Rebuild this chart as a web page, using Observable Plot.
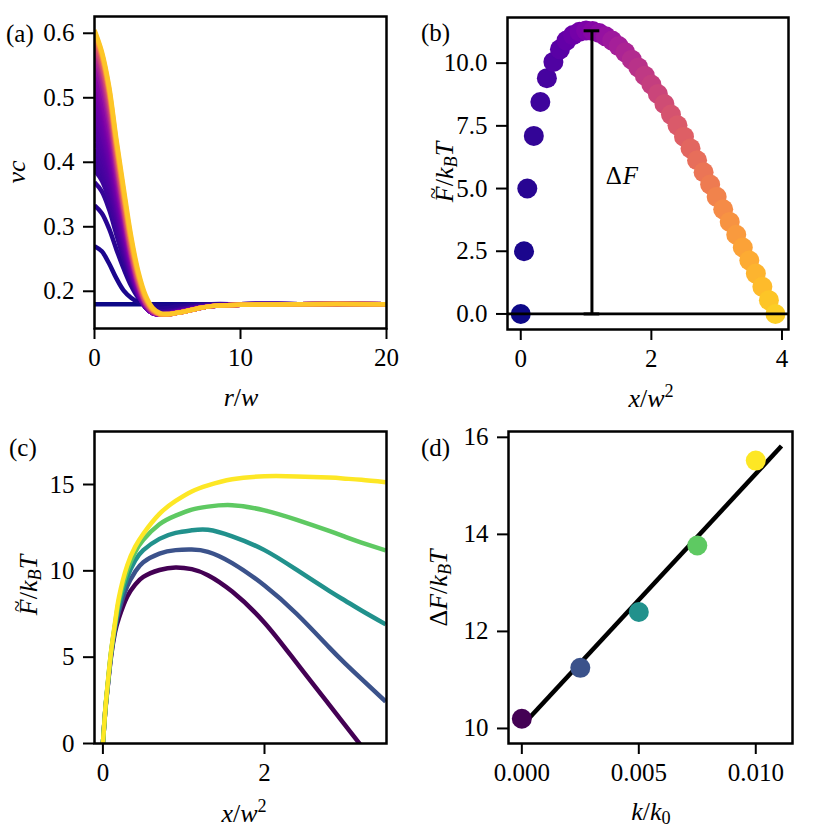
<!DOCTYPE html>
<html>
<head>
<meta charset="utf-8">
<script src="https://cdn.jsdelivr.net/npm/d3@7"></script>
<script src="https://cdn.jsdelivr.net/npm/@observablehq/plot@0.6"></script>
<style>
  body { margin: 0; background: #fff; }
  #fig { position: relative; width: 830px; height: 830px; font-family: "Liberation Serif", "Times New Roman", "DejaVu Serif", serif; color: #000; overflow: hidden; }
  .panel { position: absolute; width: 415px; height: 415px; }
  .lab { position: absolute; white-space: nowrap; font-size: 26px; line-height: 1; }
  .plab { position: absolute; white-space: nowrap; font-size: 25px; line-height: 1; transform: translate(0, -50%); }
  .sub { font-size: 0.7em; vertical-align: -0.25em; }
  .sup { font-size: 0.7em; vertical-align: 0.5em; }
  .tf { position: relative; display: inline-block; }
  .tilde { position: absolute; left: 55%; top: -0.42em; transform: translateX(-50%); font-style: normal; font-size: 0.8em; }
</style>
</head>
<body>
<div id="fig"></div>
<script>
// ---------- Panel (a): density profiles nu*c vs r/w ----------
const rW = [0, 0.5, 1, 1.5, 2, 2.5, 3, 3.5, 4, 4.5, 5, 5.5, 6, 7, 8, 10, 14, 20];
const nu000 = [0.180,0.180,0.180,0.180,0.180,0.180,0.180,0.180,0.180,0.180,0.180,0.180,0.180,0.180,0.180,0.180,0.180,0.180];
const nu020 = [0.270,0.262,0.243,0.220,0.201,0.190,0.183,0.179,0.178,0.178,0.178,0.179,0.179,0.180,0.180,0.180,0.180,0.180];
const nu045 = [0.333,0.321,0.297,0.265,0.235,0.209,0.190,0.179,0.174,0.173,0.174,0.176,0.177,0.179,0.180,0.180,0.180,0.180];
const nu070 = [0.369,0.355,0.327,0.288,0.250,0.216,0.192,0.177,0.170,0.169,0.170,0.172,0.174,0.177,0.179,0.180,0.180,0.180];
const nu090 = [0.388,0.372,0.342,0.300,0.258,0.221,0.193,0.176,0.168,0.167,0.168,0.170,0.172,0.176,0.178,0.180,0.180,0.180];
const nu097 = [0.396,0.379,0.348,0.305,0.261,0.223,0.194,0.176,0.168,0.167,0.168,0.170,0.172,0.176,0.178,0.180,0.180,0.180];
const nu105 = [0.405,0.386,0.354,0.309,0.263,0.224,0.194,0.176,0.168,0.166,0.167,0.169,0.172,0.176,0.178,0.180,0.180,0.180];
const nu112 = [0.412,0.393,0.360,0.313,0.266,0.225,0.194,0.175,0.167,0.166,0.167,0.169,0.171,0.175,0.178,0.180,0.180,0.180];
const nu120 = [0.420,0.400,0.365,0.317,0.268,0.226,0.194,0.175,0.167,0.166,0.167,0.169,0.171,0.175,0.178,0.180,0.180,0.180];
const nu130 = [0.430,0.409,0.372,0.322,0.271,0.228,0.195,0.175,0.166,0.165,0.166,0.168,0.171,0.175,0.178,0.180,0.180,0.180];
const nu140 = [0.440,0.418,0.379,0.326,0.274,0.229,0.195,0.175,0.166,0.165,0.166,0.168,0.171,0.175,0.178,0.180,0.180,0.180];
const nu150 = [0.450,0.427,0.386,0.331,0.277,0.231,0.196,0.175,0.166,0.165,0.166,0.168,0.170,0.174,0.177,0.179,0.180,0.180];
const nu160 = [0.460,0.435,0.392,0.335,0.280,0.232,0.196,0.175,0.166,0.165,0.166,0.168,0.170,0.174,0.177,0.179,0.180,0.180];
const nu172 = [0.470,0.444,0.399,0.340,0.284,0.234,0.197,0.176,0.166,0.164,0.165,0.167,0.169,0.174,0.177,0.179,0.180,0.180];
const nu185 = [0.480,0.453,0.406,0.345,0.287,0.236,0.198,0.176,0.166,0.164,0.165,0.167,0.169,0.174,0.177,0.179,0.180,0.180];
const nu198 = [0.490,0.462,0.413,0.350,0.291,0.238,0.199,0.176,0.166,0.164,0.165,0.167,0.169,0.174,0.177,0.179,0.180,0.180];
const nu210 = [0.500,0.470,0.420,0.355,0.294,0.240,0.200,0.176,0.166,0.164,0.165,0.167,0.169,0.174,0.177,0.179,0.180,0.180];
const nu228 = [0.510,0.479,0.427,0.360,0.297,0.242,0.201,0.177,0.166,0.164,0.165,0.167,0.169,0.173,0.177,0.179,0.180,0.180];
const nu245 = [0.520,0.487,0.433,0.364,0.300,0.244,0.202,0.177,0.166,0.164,0.165,0.167,0.169,0.173,0.177,0.179,0.180,0.180];
const nu262 = [0.530,0.495,0.440,0.369,0.303,0.246,0.203,0.178,0.166,0.164,0.165,0.167,0.169,0.173,0.177,0.179,0.180,0.180];
const nu280 = [0.540,0.503,0.446,0.373,0.306,0.247,0.204,0.178,0.166,0.164,0.165,0.167,0.169,0.173,0.177,0.179,0.180,0.180];
const nu320 = [0.553,0.515,0.457,0.381,0.312,0.251,0.206,0.179,0.167,0.164,0.165,0.166,0.168,0.173,0.177,0.179,0.180,0.180];
const nu360 = [0.565,0.527,0.468,0.389,0.317,0.254,0.208,0.180,0.167,0.164,0.164,0.166,0.168,0.173,0.177,0.179,0.180,0.180];
const nu405 = [0.573,0.535,0.476,0.395,0.322,0.257,0.210,0.181,0.168,0.164,0.164,0.166,0.168,0.173,0.177,0.179,0.180,0.180];
const nu450 = [0.580,0.543,0.484,0.401,0.326,0.260,0.212,0.182,0.168,0.164,0.164,0.166,0.168,0.173,0.177,0.179,0.180,0.180];
const nu500 = [0.585,0.548,0.491,0.406,0.330,0.263,0.214,0.183,0.169,0.164,0.164,0.166,0.168,0.173,0.177,0.179,0.180,0.180];
const nu550 = [0.590,0.553,0.498,0.411,0.334,0.266,0.216,0.184,0.169,0.164,0.164,0.166,0.168,0.173,0.177,0.179,0.180,0.180];
const nu650 = [0.597,0.561,0.504,0.419,0.342,0.272,0.220,0.187,0.170,0.164,0.164,0.166,0.168,0.173,0.177,0.179,0.180,0.180];
const nu740 = [0.601,0.566,0.509,0.425,0.348,0.277,0.224,0.189,0.171,0.164,0.164,0.166,0.168,0.173,0.177,0.179,0.180,0.180];
const nu820 = [0.603,0.569,0.514,0.431,0.354,0.282,0.227,0.191,0.172,0.165,0.164,0.166,0.168,0.173,0.177,0.179,0.180,0.180];
const nu880 = [0.605,0.572,0.518,0.436,0.360,0.287,0.231,0.194,0.174,0.166,0.165,0.166,0.168,0.173,0.177,0.179,0.180,0.180];
const profileShade = [0, 0.02, 0.045, 0.07, 0.09, 0.097, 0.105, 0.112, 0.12, 0.13, 0.14, 0.15, 0.16, 0.172, 0.185, 0.198, 0.21, 0.228, 0.245, 0.262, 0.28, 0.32, 0.36, 0.405, 0.45, 0.5, 0.55, 0.65, 0.74, 0.82, 0.88];
const profiles = [nu000, nu020, nu045, nu070, nu090, nu097, nu105, nu112, nu120, nu130, nu140, nu150, nu160, nu172, nu185, nu198, nu210, nu228, nu245, nu262, nu280, nu320, nu360, nu405, nu450, nu500, nu550, nu650, nu740, nu820, nu880];

// ---------- Panel (b): free energy vs x/w^2 ----------
const xB = [0, 0.05, 0.1, 0.2, 0.3, 0.4, 0.5, 0.6, 0.7, 0.8, 0.9, 1.0, 1.1, 1.2, 1.3, 1.4, 1.5, 1.6, 1.7, 1.8, 1.9,
            2.0, 2.1, 2.2, 2.3, 2.4, 2.5, 2.6, 2.7, 2.8, 2.9, 3.0, 3.1, 3.2, 3.3, 3.4, 3.5, 3.6, 3.7, 3.8, 3.9];
const FB = [0, 2.5, 5.0, 7.1, 8.45, 9.4, 10.05, 10.55, 10.9, 11.12, 11.25, 11.3, 11.28, 11.2, 11.07, 10.9, 10.68, 10.43, 10.14, 9.83, 9.5,
            9.15, 8.77, 8.37, 7.95, 7.52, 7.07, 6.6, 6.13, 5.65, 5.16, 4.67, 4.17, 3.67, 3.16, 2.65, 2.13, 1.61, 1.08, 0.55, 0];
const barrierX = 1.09;
const barrierTop = 11.29;
const capHalf = 0.12;

// ---------- Panel (c): free energy curves for several k ----------
const xC = [0, 0.03, 0.06, 0.1, 0.15, 0.2, 0.3, 0.4, 0.5, 0.7, 0.9, 1.1, 1.3, 1.6, 2.0, 2.4, 2.8, 3.0, 3.2, 3.5];
const Fk0    = [0, 1.90, 3.30, 5.00, 6.45, 7.30, 8.50, 9.20, 9.65, 10.05, 10.20, 10.10, 9.75, 8.80, 7.00, 4.65, 2.25, 1.05, -0.15, -2.0];
const Fk0025 = [0, 1.94, 3.35, 5.10, 6.65, 7.70, 9.10, 9.95, 10.50, 11.00, 11.20, 11.23, 11.10, 10.45, 9.15, 7.50, 5.57, 4.63, 3.74, 2.43];
const Fk005  = [0, 1.96, 3.40, 5.20, 6.80, 8.00, 9.60, 10.60, 11.20, 11.85, 12.20, 12.35, 12.38, 12.00, 11.20, 10.05, 8.84, 8.27, 7.70, 6.90];
const Fk0075 = [0, 1.98, 3.45, 5.25, 6.90, 8.30, 10.00, 11.10, 11.80, 12.70, 13.20, 13.55, 13.72, 13.80, 13.50, 12.95, 12.31, 11.97, 11.64, 11.18];
const Fk01   = [0, 2.00, 3.50, 5.30, 7.00, 8.50, 10.30, 11.40, 12.15, 13.30, 14.05, 14.60, 14.95, 15.30, 15.48, 15.47, 15.40, 15.34, 15.27, 15.13];
const curvesC = [Fk0, Fk0025, Fk005, Fk0075, Fk01];
const viridis5 = ["#440154", "#3b528b", "#21918c", "#5ec962", "#fde725"];

// ---------- Panel (d): barrier vs k/k0 ----------
const kD  = [0, 0.0025, 0.005, 0.0075, 0.01];
const dFD = [10.2, 11.25, 12.4, 13.77, 15.52];
const kFit  = [0, 0.0111];
const dFFit = [10.05, 15.82];

// ---------- drawing ----------
const fig = document.getElementById("fig");
const FONT = '"Liberation Serif", "Times New Roman", "DejaVu Serif", serif';

function panel(left, top, opts) {
  const p = Plot.plot({
    width: 415, height: 415,
    marginLeft: opts.m[0], marginRight: opts.m[1], marginTop: opts.m[2], marginBottom: opts.m[3],
    x: {domain: opts.xd},
    y: {domain: opts.yd},
    style: {fontFamily: FONT, fontSize: "25px", background: "transparent", color: "#000", overflow: "visible"},
    marks: [
      ...opts.marks,
      Plot.frame({stroke: "#000", strokeWidth: 2.5}),
      Plot.axisX({ticks: opts.xt, tickFormat: opts.xf, tickSize: 11, tickPadding: 9, strokeWidth: 2, fontSize: 25, fontFamily: FONT, label: null}),
      Plot.axisY({ticks: opts.yt, tickFormat: opts.yf, tickSize: 11, tickPadding: 9, strokeWidth: 2, fontSize: 25, fontFamily: FONT, label: null})
    ]
  });
  const d = document.createElement("div");
  d.className = "panel";
  d.style.left = left + "px";
  d.style.top = top + "px";
  d.appendChild(p);
  fig.appendChild(d);
}

function label(html, cx, cy, rot) {
  const d = document.createElement("div");
  d.className = "lab";
  d.innerHTML = html;
  d.style.left = cx + "px";
  d.style.top = cy + "px";
  d.style.transform = "translate(-50%,-50%)" + (rot ? " rotate(-90deg)" : "");
  fig.appendChild(d);
}
function plabel(txt, x, cy) {
  const d = document.createElement("div");
  d.className = "plab";
  d.textContent = txt;
  d.style.left = x + "px";
  d.style.top = cy + "px";
  fig.appendChild(d);
}

// (a)
const rowsA = [];
profiles.forEach((arr, i) => arr.forEach((v, j) => rowsA.push({r: rW[j], v, id: i})));
panel(0, 0, {
  m: [94, 29, 16, 87],
  xd: [0, 20], yd: [0.1423, 0.626],
  xt: [0, 10, 20], xf: d3.format("d"),
  yt: [0.2, 0.3, 0.4, 0.5, 0.6], yf: d3.format(".1f"),
  marks: profiles.map((arr, i) =>
    Plot.line(rowsA.filter(d => d.id === i), {x: "r", y: "v", stroke: d3.interpolatePlasma(profileShade[i]), strokeWidth: 4.5, curve: "catmull-rom", clip: true, strokeLinecap: "butt"})
  )
});

// (b)
const rowsB = xB.map((x, i) => ({x, F: FB[i], s: 0.9 * i / (xB.length - 1)}));
panel(415, 0, {
  m: [92, 42, 17, 86],
  xd: [-0.203, 4.1], yd: [-0.62, 11.82],
  xt: [0, 2, 4], xf: d3.format("d"),
  yt: [0, 2.5, 5, 7.5, 10], yf: d3.format(".1f"),
  marks: [
    Plot.dot(rowsB, {x: "x", y: "F", r: 10, fill: d => d3.interpolatePlasma(d.s), stroke: "none"}),
    Plot.ruleY([0], {stroke: "#000", strokeWidth: 2.7}),
    Plot.ruleX([barrierX], {y1: 0, y2: barrierTop, stroke: "#000", strokeWidth: 3}),
    Plot.ruleY([0, barrierTop], {x1: barrierX - capHalf, x2: barrierX + capHalf, stroke: "#000", strokeWidth: 3}),
    Plot.text([{x: 1.3, y: 5.2}], {x: "x", y: "y", text: () => "Δ", textAnchor: "start", lineAnchor: "bottom", fontSize: 25, fontFamily: FONT, fill: "#000"}),
    Plot.text([{x: 1.3, y: 5.2}], {x: "x", y: "y", text: () => "F", dx: 17, textAnchor: "start", lineAnchor: "bottom", fontSize: 25, fontFamily: FONT, fontStyle: "italic", fill: "#000"})
  ]
});

// (c)
const rowsC = [];
curvesC.forEach((arr, i) => arr.forEach((v, j) => rowsC.push({x: xC[j], F: v, id: i})));
panel(0, 415, {
  m: [94, 29, 16, 87],
  xd: [-0.104, 3.51], yd: [0, 18.07],
  xt: [0, 2], xf: d3.format("d"),
  yt: [0, 5, 10, 15], yf: d3.format("d"),
  marks: curvesC.map((arr, i) =>
    Plot.line(rowsC.filter(d => d.id === i), {x: "x", y: "F", stroke: viridis5[i], strokeWidth: 4.5, curve: "natural", clip: true, strokeLinecap: "butt"})
  )
});

// (d)
panel(415, 415, {
  m: [93, 38, 16, 87],
  xd: [-0.00057, 0.01157], yd: [9.69, 16.12],
  xt: [0, 0.005, 0.01], xf: d3.format(".3f"),
  yt: [10, 12, 14, 16], yf: d3.format("d"),
  marks: [
    Plot.line(kFit.map((k, i) => ({k, F: dFFit[i]})), {x: "k", y: "F", stroke: "#000", strokeWidth: 4.5, strokeLinecap: "butt"}),
    Plot.dot(kD.map((k, i) => ({k, F: dFD[i], c: viridis5[i]})), {x: "k", y: "F", r: 10, fill: "c", stroke: "none"})
  ]
});

// axis labels
const FT = '<span class="tf"><i>F</i><span class="tilde">~</span></span>';
label('<i>ν</i><i>c</i>', 17, 172, true);
label('<i>r</i>/<i>w</i>', 241, 398, false);
label(FT + '/<i>k</i><span class="sub"><i>B</i></span><i>T</i>', 446, 172, true);
label('<i>x</i>/<i>w</i><span class="sup">2</span>', 651, 397, false);
label(FT + '/<i>k</i><span class="sub"><i>B</i></span><i>T</i>', 30, 585, true);
label('<i>x</i>/<i>w</i><span class="sup">2</span>', 244, 812, false);
label('Δ<i>F</i>/<i>k</i><span class="sub"><i>B</i></span><i>T</i>', 440, 588, true);
label('<i>k</i>/<i>k</i><span class="sub">0</span>', 651, 813, false);

// panel letters
plabel("(a)", 6, 33);
plabel("(b)", 421, 32);
plabel("(c)", 9, 447);
plabel("(d)", 421, 447);
</script>
</body>
</html>
